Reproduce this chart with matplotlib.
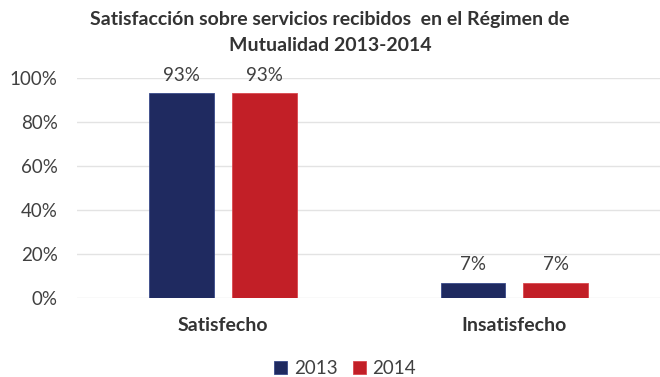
import matplotlib
matplotlib.use("Agg")
import matplotlib.pyplot as plt
import numpy as np
from matplotlib.ticker import PercentFormatter

categories = ["Satisfecho", "Insatisfecho"]
series_names = ["2013", "2014"]
values_2013 = [0.93, 0.07]
values_2014 = [0.93, 0.07]
labels_2013 = ["93%", "7%"]
labels_2014 = ["93%", "7%"]
colors = ["#1F2A60", "#C21F27"]
title = "Satisfacción sobre servicios recibidos  en el Régimen de\nMutualidad 2013-2014"

plt.rcParams['font.family'] = ['Lato', 'DejaVu Sans']

fig = plt.figure(figsize=(6.6, 3.77), dpi=100)
ax = fig.add_axes([0.117, 0.2095, 0.883, 0.5835])

x = np.arange(len(categories))
w = 0.222
off = 0.142
b1 = ax.bar(x - off, values_2013, w, color=colors[0], label=series_names[0], edgecolor="#3a4a8a", linewidth=0.6)
b2 = ax.bar(x + off, values_2014, w, color=colors[1], label=series_names[1], edgecolor="#d9484f", linewidth=0.6)
for bars, labs in ((b1, labels_2013), (b2, labels_2014)):
    for r, l in zip(bars, labs):
        ax.annotate(l, (r.get_x() + r.get_width() / 2, r.get_height()),
                    xytext=(0, 7), textcoords="offset points",
                    ha="center", va="bottom", fontsize=13.5, color="#404040")

ax.set_xlim(-0.5, 1.5)
ax.set_ylim(0, 1.0)
ax.set_yticks(np.arange(0, 1.01, 0.2))
ax.yaxis.set_major_formatter(PercentFormatter(1.0, decimals=0))
ax.grid(axis="y", color="#e3e3e3", linewidth=1)
ax.set_axisbelow(True)
for s in ax.spines.values():
    s.set_visible(False)
ax.tick_params(axis="y", length=0, labelsize=13.5, labelcolor="#404040", pad=14)
ax.set_xticks(x)
ax.set_xticklabels(categories, fontsize=14, fontweight="bold", color="#333333")
ax.tick_params(axis="x", length=0, pad=14)

fig.text(0.5, 0.97, title, ha="center", va="top", fontsize=14, fontweight="bold",
         color="#333333", linespacing=1.6)

fig.legend(handles=[b1, b2], labels=series_names, loc="lower center",
           bbox_to_anchor=(0.523, -0.045), ncol=2, frameon=False, fontsize=13.5,
           handlelength=0.7, handleheight=0.7, columnspacing=0.8, handletextpad=0.35,
           labelcolor="#404040")

fig.savefig("out.png", dpi=100)
